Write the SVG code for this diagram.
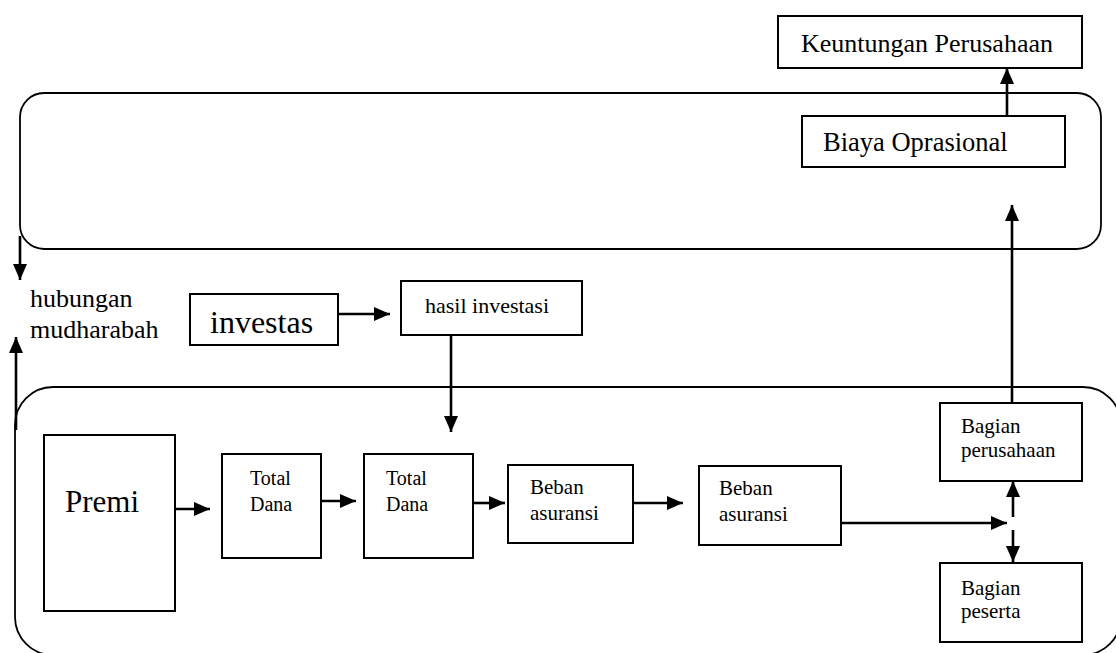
<svg xmlns="http://www.w3.org/2000/svg" width="1116" height="653" viewBox="0 0 1116 653">
<style>
.box{fill:#fff;stroke:#000;stroke-width:2}
.frame{fill:none;stroke:#000;stroke-width:1.8}
.conn{fill:none;stroke:#000;stroke-width:2.6;marker-end:url(#ah)}
text{font-family:"Liberation Serif","Times New Roman",serif;fill:#000}
.t26{font-size:26px}
.t21{font-size:21px}
.t20{font-size:20px}
</style>
<defs>
<marker id="ah" viewBox="0 0 16 14" refX="16" refY="7" markerWidth="16" markerHeight="14" markerUnits="userSpaceOnUse" orient="auto">
<path d="M0,0 L16,7 L0,14 z" fill="#000"/>
</marker>
</defs>
<rect width="1116" height="653" fill="#fff"/>
<g id="frame-top"><rect class="frame" x="20" y="93" width="1081" height="156" rx="24" ry="24"/></g>
<g id="frame-bottom"><rect class="frame" x="15" y="387" width="1106" height="268" rx="38" ry="38"/></g>
<g id="keuntungan"><rect class="box" x="778" y="16" width="304" height="52"/><text class="t26" x="801" y="52">Keuntungan Perusahaan</text></g>
<g id="biaya"><rect class="box" x="802" y="116" width="263" height="51"/><text class="t26" x="823" y="151" style="font-size:26.5px">Biaya Oprasional</text></g>
<g id="hubungan"><text class="t26" x="30" y="307">hubungan</text><text class="t26" x="30" y="338">mudharabah</text></g>
<g id="investas"><rect class="box" x="190" y="294" width="148" height="51"/><text x="210" y="333" style="font-size:32px">investas</text></g>
<g id="hasil"><rect class="box" x="401" y="281" width="181" height="54"/><text x="425" y="313" style="font-size:22px">hasil investasi</text></g>
<g id="premi"><rect class="box" x="44" y="435" width="131" height="176"/><text x="65" y="512" style="font-size:31px">Premi</text></g>
<g id="total1"><rect class="box" x="222" y="454" width="99" height="104"/><text class="t20" x="250" y="485">Total</text><text class="t20" x="250" y="511">Dana</text></g>
<g id="total2"><rect class="box" x="364" y="454" width="109" height="104"/><text class="t20" x="386" y="485">Total</text><text class="t20" x="386" y="511">Dana</text></g>
<g id="beban1"><rect class="box" x="508" y="465" width="125" height="78"/><text class="t21" x="530" y="494">Beban</text><text class="t21" x="530" y="520">asuransi</text></g>
<g id="beban2"><rect class="box" x="699" y="466" width="142" height="79"/><text class="t21" x="719" y="495">Beban</text><text class="t21" x="719" y="521">asuransi</text></g>
<g id="bagian-perusahaan"><rect class="box" x="940" y="403" width="142" height="78"/><text class="t21" x="961" y="433">Bagian</text><text class="t21" x="961" y="457">perusahaan</text></g>
<g id="bagian-peserta"><rect class="box" x="940" y="563" width="142" height="79"/><text class="t21" x="961" y="595">Bagian</text><text class="t21" x="961" y="618">peserta</text></g>
<g id="connectors">
<path class="conn" d="M338,314 H390"/>
<path class="conn" d="M451,335 V432"/>
<path class="conn" d="M175,509 H210"/>
<path class="conn" d="M321,501 H356"/>
<path class="conn" d="M473,503 H505"/>
<path class="conn" d="M633,503 H683"/>
<path class="conn" d="M841,523 H1007"/>
<path class="conn" d="M1013,517 V481"/>
<path class="conn" d="M1013,530 V562"/>
<path class="conn" d="M1012,403 V205"/>
<path class="conn" d="M1007,116 V68"/>
<path class="conn" d="M20,236 V280"/>
<path class="conn" d="M16,430 V337"/>
</g>
</svg>
